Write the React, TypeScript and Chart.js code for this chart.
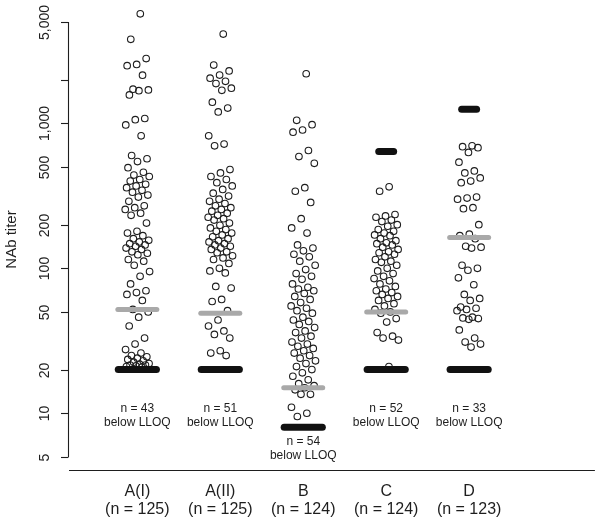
import React, { useEffect, useRef } from "react";
import { Chart, registerables } from "chart.js";
Chart.register(...registerables);

// ---------- data ----------
const groups = ["A(I)", "A(II)", "B", "C", "D"];
const groupN = [125, 125, 124, 124, 123];
const belowLLOQ = [43, 51, 54, 52, 33];
const lloqPlotValue = [20, 20, 8, 20, 20];
const medians = [52, 49, 15, 50, 163];
const uloqGroupIndex = [3, 4];
const uloqValues = [640, 1250];
const noteValues = [10.7, 10.7, 6.4, 10.7, 10.7];
const yTicks = [5, 10, 20, 50, 100, 200, 500, 1000, 2000, 5000];
const yTickLabels = ["5", "10", "20", "50", "100", "200", "500", "1,000", "", "5,000"];

const valsAI = [
  5700, 3800, 2800, 2550, 2500, 2150, 1720, 1700, 1680, 1570, 1080, 1060, 975, 820,
  600, 570, 545, 495, 460, 440, 430, 410, 400, 380, 370, 360, 345, 335,
  320, 310, 290, 270, 262, 255, 240, 232, 205,
  180, 175, 168, 160, 156, 152, 148, 145, 142, 138, 135, 130, 127, 124, 115, 112, 105,
  95, 88, 78, 70, 68, 66, 60, 52, 50, 46, 40, 33, 30, 27.5, 26,
  25, 24.5, 24, 23.5, 23, 22.5, 22, 21.8, 21.5, 21.5, 21.2, 21, 20.8,
];
const valsAII = [
  4130, 2525, 2300, 2155, 2050, 1950, 1880, 1750, 1690, 1400, 1275, 1200, 820, 720, 700, 480, 455, 430,
  410, 390, 370, 350, 330, 315, 300, 290, 280, 270, 262, 255, 248, 240, 232, 225, 220, 215,
  205, 198, 190, 185, 180, 175, 170, 165, 160, 155, 152, 148, 145, 142, 138, 135, 130, 128,
  122, 118, 115, 108, 100, 96, 93, 75, 73, 61, 59, 51, 44, 40, 37, 35, 33, 27, 26, 25,
];
const valsB = [
  2200, 1050, 980, 900, 870, 650, 590, 530, 360, 340, 285, 220, 190, 175,
  145, 138, 132, 125, 120, 112, 105, 98, 92, 88, 84, 78, 74, 72, 70, 67,
  64, 61, 58, 55, 53, 51, 49, 46, 44, 43, 41, 39, 37, 36, 34, 33, 31, 30,
  29, 28, 27, 26, 25, 24, 23, 22, 21, 20, 19, 18, 17, 16, 15.5, 15, 14.5, 13.5, 13.5, 11, 10, 9.5,
];
const valsC = [
  365, 340, 235, 230, 225, 215, 210, 200, 195, 185, 180, 175, 170, 168, 160, 155, 150, 148,
  145, 140, 135, 130, 128, 125, 120, 115, 112, 110, 105, 100, 96, 92, 88, 85, 82, 78,
  75, 72, 70, 68, 66, 64, 62, 60, 57, 55, 52, 50, 49, 45, 42.6, 36, 34, 33, 32, 21,
];
const valsD = [
  700, 690, 680, 630, 540, 470, 455, 420, 400, 390, 310, 305, 300, 262, 258, 200,
  172, 168, 160, 142, 140, 138, 105, 100, 97, 86, 77, 66, 62, 60,
  54, 53, 52, 51, 46, 45.5, 45, 44.5, 37.6, 33, 31, 30, 28.6,
];
const groupValues = [valsAI, valsAII, valsB, valsC, valsD];

// ---------- helpers ----------
const jitter = (i: number) => ((((i + 1) * 0.6180339887) % 1) - 0.5) * 0.3;
const FONT = "'Liberation Sans', Arial, Helvetica, sans-serif";
const INK = "#1e1e1e";

const rAxesPlugin = {
  id: "rAxes",
  afterDraw(chart: any) {
    const ctx = chart.ctx as CanvasRenderingContext2D;
    const xs = chart.scales.x;
    const ys = chart.scales.y;
    ctx.save();
    ctx.strokeStyle = INK;
    ctx.fillStyle = INK;
    ctx.lineWidth = 1.1;
    const ax = Math.round(xs.left) + 0.5;
    // y axis line
    ctx.beginPath();
    ctx.moveTo(ax, ys.getPixelForValue(yTicks[0]));
    ctx.lineTo(ax, ys.getPixelForValue(yTicks[yTicks.length - 1]));
    ctx.stroke();
    // ticks + labels
    ctx.font = `14px ${FONT}`;
    ctx.textAlign = "center";
    ctx.textBaseline = "middle";
    yTicks.forEach((t, i) => {
      const py = Math.round(ys.getPixelForValue(t)) + 0.5;
      ctx.beginPath();
      ctx.moveTo(ax - 7.5, py);
      ctx.lineTo(ax, py);
      ctx.stroke();
      if (yTickLabels[i]) {
        ctx.save();
        ctx.translate(ax - 23, py);
        ctx.rotate(-Math.PI / 2);
        ctx.fillText(yTickLabels[i], 0, 0);
        ctx.restore();
      }
    });
    // y title
    ctx.save();
    ctx.translate(12, (ys.getPixelForValue(5) + ys.getPixelForValue(5000)) / 2);
    ctx.rotate(-Math.PI / 2);
    ctx.font = `15px ${FONT}`;
    ctx.fillText("NAb titer", 0, 0);
    ctx.restore();
    // x axis line
    const bx = Math.round(ys.bottom) + 0.5;
    ctx.beginPath();
    ctx.moveTo(xs.left + 1, bx);
    ctx.lineTo(xs.right, bx);
    ctx.stroke();
    // group labels and notes
    groups.forEach((g, i) => {
      const px = xs.getPixelForValue(i + 1);
      ctx.font = `16px ${FONT}`;
      ctx.fillText(g, px, bx + 21);
      ctx.fillText(`(n = ${groupN[i]})`, px, bx + 39);
      const ny = ys.getPixelForValue(noteValues[i]);
      ctx.font = `12px ${FONT}`;
      ctx.fillText(`n = ${belowLLOQ[i]}`, px, ny);
      ctx.fillText("below LLOQ", px, ny + 14);
    });
    ctx.restore();
  },
};

export default function App() {
  const ref = useRef<HTMLCanvasElement | null>(null);
  useEffect(() => {
    if (!ref.current) return;
    const pointSets = groupValues.map((vals, g) => ({
      type: "scatter" as const,
      data: vals.map((v, i) => ({ x: g + 1 + jitter(i), y: v })),
      pointStyle: "circle",
      pointRadius: 3.3,
      pointBorderWidth: 1.1,
      pointBorderColor: INK,
      pointBackgroundColor: "rgba(0,0,0,0)",
      showLine: false,
      order: 2,
    }));
    const barSet = (x: number, y: number, half: number, color: string, w: number) => ({
      type: "scatter" as const,
      data: [{ x: x - half, y }, { x: x + half, y }],
      showLine: true,
      borderColor: color,
      borderWidth: w,
      borderCapStyle: "round" as const,
      pointRadius: 0,
      order: 0,
    });
    const lloqSets = lloqPlotValue.map((v, g) => barSet(g + 1, v, 0.23, "#111", 7));
    const medSets = medians.map((v, g) => barSet(g + 1, v, 0.235, "#a9a9a9", 5));
    const uloqSets = uloqValues.map((v, k) => barSet(uloqGroupIndex[k] + 1, v, 0.09, "#111", 7));
    const chart = new Chart(ref.current, {
      type: "scatter",
      data: { datasets: [...lloqSets, ...uloqSets, ...medSets, ...pointSets] as any },
      options: {
        animation: false,
        responsive: false,
        devicePixelRatio: 1,
        layout: { padding: { left: 68, right: 0, top: 8, bottom: 48 } },
        plugins: { legend: { display: false }, tooltip: { enabled: false } },
        scales: {
          x: { type: "linear", min: 0.164, max: 6.516, display: false },
          y: { type: "logarithmic", min: 4.06, max: 6250, display: false },
        },
      },
      plugins: [rAxesPlugin],
    });
    return () => chart.destroy();
  }, []);
  return (
    <div style={{ position: "fixed", left: 0, top: 0, width: 600, height: 518, background: "#fff" }}>
      <canvas ref={ref} width={600} height={518} />
    </div>
  );
}
